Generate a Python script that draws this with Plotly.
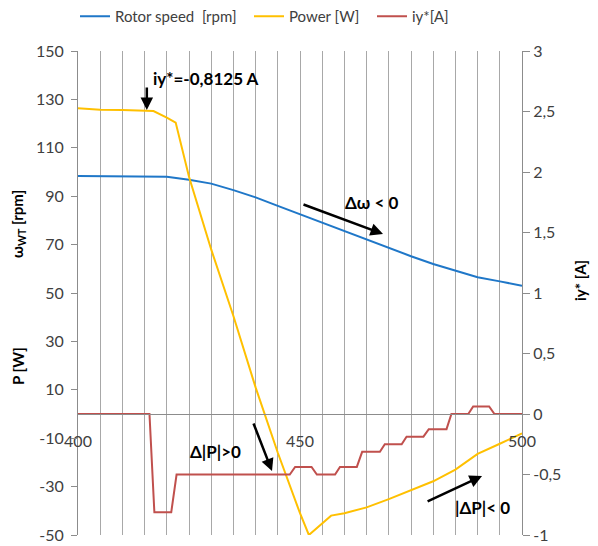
import plotly.graph_objects as go

# ---- data ----
speed_x = [400, 405, 410, 415, 420, 425, 430, 435, 440, 445, 450, 455, 460, 465, 470, 475, 480, 485, 490, 495, 500]
speed_rpm = [98.3, 98.3, 98.3, 98.3, 98.0, 96.8, 95.2, 92.5, 89.5, 86.0, 82.5, 79.3, 75.8, 72.3, 68.8, 65.2, 62.0, 59.2, 56.5, 54.8, 53.0]

power_x = [400, 405, 410, 415, 417, 420, 422, 425, 430, 435, 440, 445, 450, 452, 455, 457, 460, 465, 470, 475, 480, 485, 490, 495, 500]
power_w = [126.3, 125.7, 125.6, 125.3, 125.2, 122.5, 120.4, 98, 68, 40.5, 11, -16, -41, -50, -45, -42, -41, -38.6, -35.2, -31.5, -27.8, -23, -16.5, -12.3, -8]

iy_x = [400, 416.1, 417.2, 421.0, 422.2, 447.7, 448.9, 452.6, 453.8, 457.9, 459.0, 462.8, 464.0, 468.0, 469.1,
        472.9, 474.0, 477.8, 479.0, 483.0, 484.1, 487.9, 489.0, 492.6, 493.8, 500]
iy_a = [0, 0, -0.8125, -0.8125, -0.5, -0.5, -0.4375, -0.4375, -0.5, -0.5, -0.4375, -0.4375, -0.3125, -0.3125, -0.25,
        -0.25, -0.1875, -0.1875, -0.125, -0.125, 0, 0, 0.0625, 0.0625, 0, 0]

x_ticks = [400, 450, 500]
left_ticks = [150, 130, 110, 90, 70, 50, 30, 10, -10, -30, -50]
left_labels = ["150", "130", "110", "90", "70", "50", "30", "10", "-10", "-30", "-50"]
right_ticks = [3, 2.5, 2, 1.5, 1, 0.5, 0, -0.5, -1]
right_labels = ["3", "2,5", "2", "1,5", "1", "0,5", "0", "-0,5", "-1"]

FONT = "Lato"
GRID = "#a8a8a8"
AXIS = "#8c8c8c"
TXT = "#404040"

# the page body has an 8px margin, so the figure is laid out 8px up/left
OFF = 8
PL, PT, PW, PH = 78 - OFF, 51 - OFF, 444, 484
W, H = 598, 546

fig = go.Figure()
fig.add_trace(go.Scatter(x=speed_x, y=speed_rpm, mode="lines", name="Rotor speed  [rpm]", legend="legend",
                         line=dict(color="#1f77c8", width=2)))
fig.add_trace(go.Scatter(x=power_x, y=power_w, mode="lines", name="Power [W]", legend="legend2",
                         line=dict(color="#ffc000", width=2)))
fig.add_trace(go.Scatter(x=iy_x, y=iy_a, mode="lines", name="iy*[A]", yaxis="y2", legend="legend3",
                         line=dict(color="#c0504d", width=2)))


def leg(start_px):
    return dict(orientation="h", x=(start_px - OFF - 6) / W, xref="container", xanchor="left",
                y=1 - (16.5 - OFF) / H, yref="container", yanchor="middle",
                font=dict(size=15, color=TXT), bgcolor="rgba(0,0,0,0)", itemwidth=30)


fig.update_layout(
    width=W, height=H,
    margin=dict(l=PL, r=W - PL - PW, t=PT, b=H - PT - PH, autoexpand=False),
    paper_bgcolor="white", plot_bgcolor="white",
    font=dict(family=FONT, size=16, color=TXT),
    showlegend=True,
    legend=leg(81), legend2=leg(255), legend3=leg(378),
    xaxis=dict(range=[400, 500], tickvals=x_ticks, ticks="outside", ticklen=13, tickcolor="rgba(0,0,0,0)",
               showline=True, linecolor=AXIS, linewidth=1,
               anchor="free", position=0.25, showgrid=True, gridcolor=GRID, gridwidth=1,
               minor=dict(dtick=5, tick0=400, showgrid=True, gridcolor=GRID, gridwidth=1),
               zeroline=False, tickfont=dict(size=16, color=TXT)),
    yaxis=dict(range=[-50, 150], tickvals=left_ticks, ticktext=left_labels, ticks="outside", ticklen=6,
               tickcolor=AXIS, showline=True, linecolor=AXIS, showgrid=False, zeroline=False,
               ticklabelstandoff=4, tickfont=dict(size=16, color=TXT)),
    yaxis2=dict(range=[-1, 3], tickvals=right_ticks, ticktext=right_labels, ticks="outside", ticklen=7,
                tickcolor=AXIS, overlaying="y", side="right", showline=True, linecolor=AXIS,
                showgrid=False, zeroline=False, tickfont=dict(size=16, color=TXT)),
)

ann_font = dict(family=FONT, size=17, color="black")
title_font = dict(family=FONT, size=15, color="black")


def px_x(p):
    return (p - 78) / PW


def px_y(p):
    return (535 - p) / PH


# axis titles
fig.add_annotation(text="<b>ω<sub>WT</sub> [rpm]</b>", xref="paper", yref="paper", x=px_x(18), y=px_y(224),
                   textangle=-90, showarrow=False, font=title_font, xanchor="center", yanchor="middle")
fig.add_annotation(text="<b>P [W]</b>", xref="paper", yref="paper", x=px_x(18), y=px_y(366),
                   textangle=-90, showarrow=False, font=title_font, xanchor="center", yanchor="middle")
fig.add_annotation(text="<b>iy* [A]</b>", xref="paper", yref="paper", x=px_x(580), y=px_y(281),
                   textangle=-90, showarrow=False, font=title_font, xanchor="center", yanchor="middle")

# text labels
fig.add_annotation(text="<b>iy*=-0,8125 A</b>", x=428.8, y=138.8, showarrow=False, font=ann_font)
fig.add_annotation(text="<b>Δω < 0</b>", x=466.2, y=87.6, showarrow=False, font=ann_font)
fig.add_annotation(text="<b>Δ|P|>0</b>", x=430.9, y=-15.3, showarrow=False, font=ann_font)
fig.add_annotation(text="<b>|ΔP|< 0</b>", x=491.0, y=-38.8, showarrow=False, font=ann_font)

# arrows
arrows = [
    (415.5, 125.6, 415.5, 135.5),
    (468.7, 74.4, 450.45, 86.8),
    (443.7, -23.6, 439.4, -3.3),
    (491.0, -25.6, 478.4, -36.4),
]
for tx, ty, sx, sy in arrows:
    fig.add_annotation(x=tx, y=ty, ax=sx, ay=sy, xref="x", yref="y", axref="x", ayref="y",
                       text="", showarrow=True, arrowhead=2, arrowsize=1, arrowwidth=2.5, arrowcolor="black")

fig.write_html("out.html")
